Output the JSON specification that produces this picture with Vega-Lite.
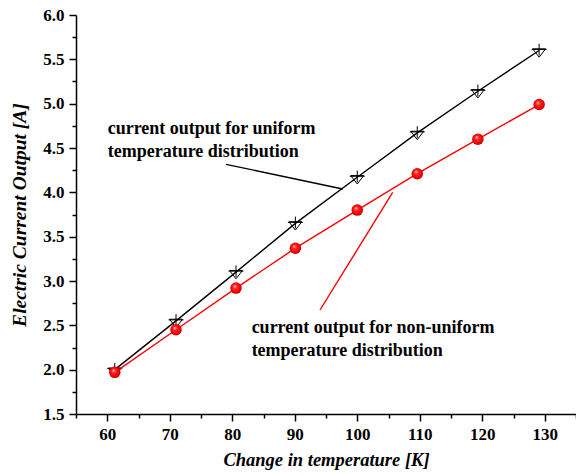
{
  "$schema": "https://vega.github.io/schema/vega-lite/v6.json",
  "width": 500,
  "height": 399,
  "autosize": "none",
  "padding": {"left": 76, "top": 15, "right": 0, "bottom": 61},
  "background": "white",
  "config": {"view": {"stroke": null}, "font": "'Liberation Serif', 'Times New Roman', serif"},
  "datasets": {
    "points": [
      {"T": 61.2, "I": 2.0, "series": "uniform"},
      {"T": 71.0, "I": 2.55, "series": "uniform"},
      {"T": 80.6, "I": 3.1, "series": "uniform"},
      {"T": 90.1, "I": 3.65, "series": "uniform"},
      {"T": 100.0, "I": 4.17, "series": "uniform"},
      {"T": 109.6, "I": 4.67, "series": "uniform"},
      {"T": 119.3, "I": 5.14, "series": "uniform"},
      {"T": 129.1, "I": 5.6, "series": "uniform"},
      {"T": 61.2, "I": 1.97, "series": "non-uniform"},
      {"T": 71.0, "I": 2.45, "series": "non-uniform"},
      {"T": 80.6, "I": 2.92, "series": "non-uniform"},
      {"T": 90.1, "I": 3.37, "series": "non-uniform"},
      {"T": 100.0, "I": 3.8, "series": "non-uniform"},
      {"T": 109.6, "I": 4.21, "series": "non-uniform"},
      {"T": 119.3, "I": 4.6, "series": "non-uniform"},
      {"T": 129.1, "I": 4.99, "series": "non-uniform"}
    ],
    "notes": [
      {"T": 79.0, "I": 4.316, "T2": 97.67, "I2": 4.038, "series": "uniform"},
      {"T": 105.67, "I": 4.0, "T2": 94.04, "I2": 2.673, "series": "non-uniform"}
    ],
    "labels": [
      {"T": 60.07, "I": 4.658, "text": "current output for uniform", "series": "uniform"},
      {"T": 60.07, "I": 4.402, "text": "temperature distribution", "series": "uniform"},
      {"T": 83.1, "I": 2.41, "text": "current output for non-uniform", "series": "non-uniform"},
      {"T": 83.1, "I": 2.158, "text": "temperature distribution", "series": "non-uniform"}
    ]
  },
  "encoding": {
    "x": {
      "field": "T",
      "type": "quantitative",
      "scale": {"domain": [55, 135], "nice": false, "zero": false},
      "axis": {
        "values": [55, 60, 65, 70, 75, 80, 85, 90, 95, 100, 105, 110, 115, 120, 125, 130, 135],
        "labelExpr": "datum.value % 10 === 0 ? datum.label : ''",
        "tickSize": {"condition": {"test": "datum.value % 10 === 0", "value": 7}, "value": 4},
        "title": "Change in temperature [K]",
        "grid": false,
        "domainColor": "black",
        "domainWidth": 1.5,
        "tickColor": "black",
        "tickWidth": 1.5,
        "labelFont": "'Liberation Serif', 'Times New Roman', serif",
        "labelFontWeight": "bold",
        "labelFontSize": 17,
        "labelColor": "black",
        "labelPadding": 5,
        "labelFlush": false,
        "labelOverlap": false,
        "titleFont": "'Liberation Serif', 'Times New Roman', serif",
        "titleFontStyle": "italic",
        "titleFontWeight": "bold",
        "titleFontSize": 18.5,
        "titleColor": "black",
        "titlePadding": 8
      }
    },
    "y": {
      "field": "I",
      "type": "quantitative",
      "scale": {"domain": [1.5, 6.0], "nice": false, "zero": false},
      "axis": {
        "values": [1.5, 1.75, 2.0, 2.25, 2.5, 2.75, 3.0, 3.25, 3.5, 3.75, 4.0, 4.25, 4.5, 4.75, 5.0, 5.25, 5.5, 5.75, 6.0],
        "format": ".1f",
        "labelExpr": "abs(datum.value * 2 - round(datum.value * 2)) < 0.01 ? datum.label : ''",
        "tickSize": {"condition": {"test": "abs(datum.value * 2 - round(datum.value * 2)) < 0.01", "value": 7}, "value": 4},
        "title": "Electric Current Output [A]",
        "grid": false,
        "domainColor": "black",
        "domainWidth": 1.5,
        "tickColor": "black",
        "tickWidth": 1.5,
        "labelFont": "'Liberation Serif', 'Times New Roman', serif",
        "labelFontWeight": "bold",
        "labelFontSize": 17,
        "labelColor": "black",
        "labelPadding": 5,
        "labelFlush": false,
        "labelOverlap": false,
        "titleFont": "'Liberation Serif', 'Times New Roman', serif",
        "titleFontStyle": "italic",
        "titleFontWeight": "bold",
        "titleFontSize": 19.5,
        "titleColor": "black",
        "titlePadding": 13
      }
    }
  },
  "layer": [
    {
      "data": {"name": "points"},
      "transform": [{"filter": "datum.series === 'uniform'"}],
      "mark": {"type": "line", "color": "black", "strokeWidth": 1.4}
    },
    {
      "data": {"name": "points"},
      "transform": [{"filter": "datum.series === 'uniform'"}],
      "mark": {
        "type": "point",
        "shape": "M-0.97,-0.25L0.97,-0.25L0,1ZM-1.12,-0.15H1.12M0,-1V0.75",
        "filled": false,
        "stroke": "black",
        "strokeWidth": 1,
        "size": 180,
        "opacity": 1
      }
    },
    {
      "data": {"name": "points"},
      "transform": [{"filter": "datum.series === 'non-uniform'"}],
      "mark": {"type": "line", "color": "#ff0000", "strokeWidth": 1.4}
    },
    {
      "data": {"name": "points"},
      "transform": [{"filter": "datum.series === 'non-uniform'"}],
      "mark": {
        "type": "point",
        "shape": "circle",
        "filled": true,
        "opacity": 1,
        "size": 132,
        "strokeWidth": 0,
        "fill": {
          "gradient": "radial",
          "x1": 0.38, "y1": 0.32, "r1": 0,
          "x2": 0.5, "y2": 0.5, "r2": 0.55,
          "stops": [
            {"offset": 0, "color": "#ffd8d8"},
            {"offset": 0.3, "color": "#ff2a2a"},
            {"offset": 0.75, "color": "#ee0000"},
            {"offset": 1, "color": "#b00000"}
          ]
        }
      }
    },
    {
      "data": {"name": "notes"},
      "mark": {"type": "rule", "strokeWidth": 1.4},
      "encoding": {
        "x2": {"field": "T2"},
        "y2": {"field": "I2"},
        "color": {"field": "series", "type": "nominal", "scale": {"domain": ["uniform", "non-uniform"], "range": ["black", "#ff0000"]}, "legend": null}
      }
    },
    {
      "data": {"name": "labels"},
      "mark": {"type": "text", "align": "left", "baseline": "alphabetic", "font": "'Liberation Serif', 'Times New Roman', serif", "fontWeight": "bold", "fontSize": 18},
      "encoding": {
        "text": {"field": "text"},
        "color": {"value": "black"}
      }
    }
  ]
}
